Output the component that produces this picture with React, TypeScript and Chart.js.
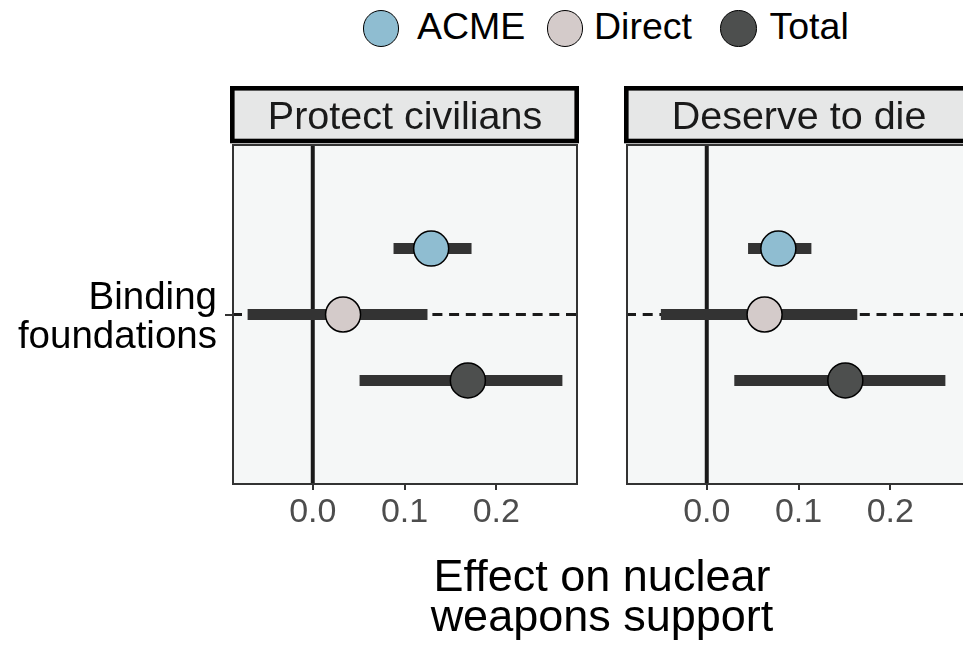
import React, { useEffect, useRef } from 'react';
import { Chart, registerables } from 'chart.js';

Chart.register(...registerables);

const FONT = "'Liberation Sans', Arial, Helvetica, sans-serif";

// ---- data ----
const seriesNames = ['ACME', 'Direct', 'Total'];
const facetNames = ['Protect civilians', 'Deserve to die'];
const categoryLabel = ['Binding', 'foundations'];
const xTickValues = [0, 0.1, 0.2];

const protectEst = [0.129, 0.033, 0.169];
const protectLow = [0.088, -0.071, 0.051];
const protectHigh = [0.173, 0.125, 0.272];

const deserveEst = [0.078, 0.063, 0.151];
const deserveLow = [0.045, -0.050, 0.030];
const deserveHigh = [0.114, 0.164, 0.260];

const seriesColors = ['#8fbdd1', '#d4cbca', '#4d4f4e'];

const X_MIN = -0.088;
const X_MAX = 0.289;
const DODGE = 0.7;

function dodgeY(i: number) {
  // ggplot-style dodge of 3 groups around category position 1 (first group on top)
  return 1 + ((1 - i) * DODGE) / 3;
}

const facetPlugin = (title: string) => ({
  id: 'facetDeco',
  beforeDraw(chart: any) {
    const { ctx, chartArea: a } = chart;
    ctx.save();
    ctx.fillStyle = '#f5f7f7';
    ctx.fillRect(a.left, a.top, a.right - a.left, a.bottom - a.top);
    ctx.restore();
  },
  beforeDatasetsDraw(chart: any) {
    const { ctx, chartArea: a, scales } = chart;
    const x0 = scales.x.getPixelForValue(0);
    const y1 = scales.y.getPixelForValue(1);
    ctx.save();
    ctx.strokeStyle = '#1a1a1a';
    ctx.lineWidth = 4;
    ctx.beginPath();
    ctx.moveTo(x0, a.top);
    ctx.lineTo(x0, a.bottom);
    ctx.stroke();
    ctx.lineWidth = 3;
    ctx.setLineDash([10, 6.7]);
    ctx.beginPath();
    ctx.moveTo(a.left, y1);
    ctx.lineTo(a.right, y1);
    ctx.stroke();
    ctx.restore();
  },
  afterDatasetsDraw(chart: any) {
    const { ctx, chartArea: a } = chart;
    ctx.save();
    ctx.strokeStyle = '#333333';
    ctx.lineWidth = 2;
    ctx.strokeRect(a.left + 1, a.top, a.right - a.left - 2, a.bottom - a.top);
    ctx.restore();
  },
  afterDraw(chart: any) {
    const { ctx, chartArea: a } = chart;
    ctx.save();
    const x = a.left + 0.3;
    const w = a.right - a.left - 1.6;
    const y = a.top - 56.7;
    const h = 52.7;
    ctx.fillStyle = '#e6e7e7';
    ctx.fillRect(x, y, w, h);
    ctx.strokeStyle = '#000000';
    ctx.lineWidth = 4.6;
    ctx.strokeRect(x, y, w, h);
    ctx.fillStyle = '#1a1a1a';
    ctx.font = `39.5px ${FONT}`;
    ctx.textAlign = 'center';
    ctx.textBaseline = 'alphabetic';
    ctx.fillText(title, (a.left + a.right) / 2, a.top - 15.7);
    ctx.restore();
  },
});

function makeConfig(facet: number, est: number[], low: number[], high: number[], showY: boolean, padLeft: number, padRight: number): any {
  const datasets: any[] = [];
  seriesNames.forEach((name, i) => {
    datasets.push({
      type: 'scatter',
      label: name,
      data: [{ x: est[i], y: dodgeY(i) }],
      backgroundColor: seriesColors[i],
      borderColor: '#000000',
      borderWidth: 1.5,
      pointRadius: 17.5,
      pointHoverRadius: 17.5,
      order: 0,
    });
  });
  seriesNames.forEach((name, i) => {
    datasets.push({
      type: 'line',
      label: name + ' interval',
      data: [
        { x: low[i], y: dodgeY(i) },
        { x: high[i], y: dodgeY(i) },
      ],
      borderColor: '#333333',
      borderWidth: 11,
      borderCapStyle: 'butt',
      pointRadius: 0,
      pointHoverRadius: 0,
      fill: false,
      order: 1,
    });
  });
  return {
    type: 'scatter',
    data: { datasets },
    options: {
      animation: false,
      responsive: false,
      devicePixelRatio: 1,
      events: [],
      layout: { autoPadding: false, padding: { left: padLeft, right: padRight, top: 65, bottom: 0 } },
      plugins: { legend: { display: false }, tooltip: { enabled: false } },
      scales: {
        x: {
          type: 'linear',
          min: X_MIN,
          max: X_MAX,
          afterBuildTicks: (s: any) => {
            s.ticks = xTickValues.map((v) => ({ value: v }));
          },
          afterFit: (s: any) => {
            s.height = 76;
            s.paddingLeft = 0;
            s.paddingRight = 0;
          },
          grid: { drawOnChartArea: false, drawTicks: true, tickLength: 6, color: '#333333', lineWidth: 2 },
          border: { display: false },
          ticks: {
            color: '#4d4d4d',
            font: { family: FONT, size: 34 },
            padding: 2,
            maxRotation: 0,
            autoSkip: false,
            callback: (v: any) => Number(v).toFixed(1),
          },
        },
        y: {
          type: 'linear',
          display: showY,
          min: 0.4,
          max: 1.6,
          afterBuildTicks: (s: any) => {
            s.ticks = [{ value: 1 }];
          },
          afterFit: (s: any) => {
            s.width = showY ? 232 : 0;
            s.paddingTop = 0;
            s.paddingBottom = 0;
          },
          grid: { drawOnChartArea: false, drawTicks: true, tickLength: 7, color: '#333333', lineWidth: 2 },
          border: { display: false },
          ticks: {
            color: '#000000',
            font: { family: FONT, size: 38.5, lineHeight: 1.02 },
            padding: 8,
            labelOffset: 3.5,
            autoSkip: false,
            callback: () => categoryLabel,
          },
        },
      },
    },
    plugins: [facetPlugin(facetNames[facet])],
  };
}

const legendPos = [
  { circle: 362.7, text: 417 },
  { circle: 546.7, text: 594 },
  { circle: 720, text: 769.5 },
];

export default function App() {
  const c1 = useRef<HTMLCanvasElement>(null);
  const c2 = useRef<HTMLCanvasElement>(null);

  useEffect(() => {
    const ch1 = new Chart(c1.current as HTMLCanvasElement, makeConfig(0, protectEst, protectLow, protectHigh, true, 0, 22));
    // second facet: chart area 626..972, right side cut off by the page edge
    const ch2 = new Chart(c2.current as HTMLCanvasElement, makeConfig(1, deserveEst, deserveLow, deserveHigh, false, 26, 8));
    return () => {
      ch1.destroy();
      ch2.destroy();
    };
  }, []);

  return (
    <div
      style={{
        position: 'absolute',
        left: 0,
        top: 0,
        width: 963,
        height: 652,
        overflow: 'hidden',
        background: '#ffffff',
        fontFamily: FONT,
      }}
    >
      {seriesNames.map((name, i) => (
        <React.Fragment key={name}>
          <div
            style={{
              position: 'absolute',
              left: legendPos[i].circle,
              top: 10.4,
              width: 36.6,
              height: 36.6,
              boxSizing: 'border-box',
              borderRadius: '50%',
              border: '1.5px solid #000',
              background: seriesColors[i],
            }}
          />
          <div
            style={{
              position: 'absolute',
              left: legendPos[i].text,
              top: 8.3,
              fontSize: 37.5,
              lineHeight: '37.5px',
              color: '#000',
              whiteSpace: 'nowrap',
            }}
          >
            {name}
          </div>
        </React.Fragment>
      ))}
      <canvas ref={c1} width={600} height={480} style={{ position: 'absolute', left: 0, top: 80, width: 600, height: 480 }} />
      <canvas ref={c2} width={380} height={480} style={{ position: 'absolute', left: 600, top: 80, width: 380, height: 480 }} />
      <div
        style={{
          position: 'absolute',
          left: 302,
          top: 556,
          width: 600,
          textAlign: 'center',
          fontSize: 45,
          lineHeight: '40px',
          color: '#000',
        }}
      >
        Effect on nuclear
        <br />
        weapons support
      </div>
    </div>
  );
}
